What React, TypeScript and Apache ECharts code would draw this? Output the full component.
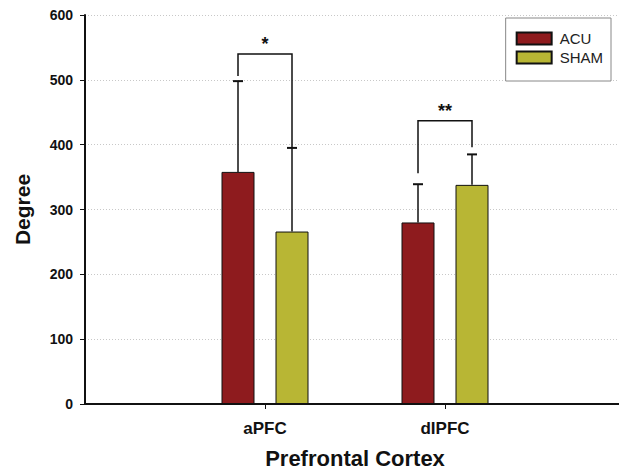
import React, { useEffect, useRef } from "react";
import * as echarts from "echarts";

const groups = ["aPFC", "dIPFC"];
const acuMean = [358, 280];
const acuSD = [140, 59];
const shamMean = [266, 338];
const shamSD = [129, 47];
const sigLevel = [540, 437];
const sigLeftEnd = [506, 356];
const sigRightEnd = [395, 396];
const sigLabel = ["*", "**"];
const yTicks = { min: 0, max: 600, interval: 100 };

const FONT = "'Liberation Sans', Arial, Helvetica, sans-serif";
const BAR_W = 33;
const BAR_GAP = 21;
const OFFSET = (BAR_W + BAR_GAP) / 2;

export default function App() {
  const ref = useRef<HTMLDivElement>(null);
  useEffect(() => {
    if (!ref.current) return;
    const chart = echarts.init(ref.current, undefined, { renderer: "svg" });
    const cats = ["", ...groups, ""];
    const pad = (a: number[]) => ["-", ...a, "-"];

    const errData: any[] = [];
    groups.forEach((_, i) => {
      errData.push([i + 1, acuMean[i], acuSD[i], -1]);
      errData.push([i + 1, shamMean[i], shamSD[i], 1]);
    });
    const sigData = groups.map((_, i) => [i + 1, sigLevel[i], sigLeftEnd[i], sigRightEnd[i], i]);

    chart.setOption({
      animation: false,
      backgroundColor: "#ffffff",
      grid: { left: 85, right: -6, top: 15, bottom: 70, outerBoundsMode: "none", containLabel: false },
      legend: {
        orient: "vertical",
        right: 8,
        top: 18,
        itemWidth: 35,
        itemHeight: 12,
        itemGap: 2,
        padding: [12, 8, 15, 10],
        borderColor: "#888",
        borderWidth: 1,
        borderRadius: 0,
        backgroundColor: "#ffffff",
        icon: "rect",
        data: ["ACU", "SHAM"],
        textStyle: { fontFamily: FONT, fontSize: 15, lineHeight: 17, color: "#222", padding: [0, 0, 0, 3] },
      },
      xAxis: {
        type: "category",
        data: cats,
        boundaryGap: false,
        name: "Prefrontal Cortex",
        nameLocation: "middle",
        nameGap: 43,
        nameTextStyle: { fontFamily: FONT, fontSize: 22, fontWeight: "bold", color: "#111" },
        axisLine: { lineStyle: { color: "#111", width: 2 } },
        axisTick: {
          length: 5,
          interval: (i: number) => i === 1 || i === 2,
          lineStyle: { color: "#111", width: 1 },
        },
        axisLabel: {
          interval: 0,
          margin: 16,
          fontFamily: FONT,
          fontSize: 17,
          fontWeight: "bold",
          color: "#111",
        },
        splitLine: { show: false },
      },
      yAxis: {
        type: "value",
        min: yTicks.min,
        max: yTicks.max,
        interval: yTicks.interval,
        name: "Degree",
        nameLocation: "middle",
        nameGap: 52,
        nameTextStyle: { fontFamily: FONT, fontSize: 21, fontWeight: "bold", color: "#111" },
        axisLine: { show: true, lineStyle: { color: "#111", width: 2 } },
        axisTick: { show: true, length: 5, lineStyle: { color: "#111", width: 1 } },
        axisLabel: { margin: 12, fontFamily: FONT, fontSize: 14, fontWeight: "bold", color: "#111" },
        splitLine: { show: true, lineStyle: { color: "#c8c8c8", type: [1, 2], width: 1 } },
      },
      series: [
        {
          name: "ACU",
          type: "bar",
          data: pad(acuMean),
          barWidth: BAR_W,
          barGap: (BAR_GAP / BAR_W) * 100 + "%",
          itemStyle: { color: "#8e1b1e", borderColor: "#111", borderWidth: 1 },
        },
        {
          name: "SHAM",
          type: "bar",
          data: pad(shamMean),
          barWidth: BAR_W,
          itemStyle: { color: "#b8b634", borderColor: "#111", borderWidth: 1 },
        },
        {
          type: "custom",
          name: "err",
          z: 5,
          data: errData,
          silent: true,
          renderItem: (params: any, api: any) => {
            const c = api.value(0);
            const m = api.value(1);
            const sd = api.value(2);
            const s = api.value(3);
            const base = api.coord([c, m]);
            const top = api.coord([c, m + sd]);
            const x = base[0] + s * OFFSET;
            return {
              type: "group",
              children: [
                { type: "line", shape: { x1: x, y1: base[1], x2: x, y2: top[1] }, style: { stroke: "#111", lineWidth: 1.5 } },
                { type: "line", shape: { x1: x - 5, y1: top[1], x2: x + 5, y2: top[1] }, style: { stroke: "#111", lineWidth: 2 } },
              ],
            };
          },
        },
        {
          type: "custom",
          name: "sig",
          z: 5,
          data: sigData,
          silent: true,
          renderItem: (params: any, api: any) => {
            const c = api.value(0);
            const lvl = api.coord([c, api.value(1)]);
            const le = api.coord([c, api.value(2)]);
            const re = api.coord([c, api.value(3)]);
            const idx = api.value(4);
            const xl = lvl[0] - OFFSET;
            const xr = lvl[0] + OFFSET;
            return {
              type: "group",
              children: [
                {
                  type: "polyline",
                  shape: { points: [[xl, le[1]], [xl, lvl[1]], [xr, lvl[1]], [xr, re[1]]] },
                  style: { stroke: "#111", lineWidth: 1.5, fill: "none" },
                },
                {
                  type: "text",
                  x: lvl[0],
                  y: lvl[1] - 1,
                  style: {
                    text: sigLabel[idx],
                    fontFamily: FONT,
                    fontSize: 18,
                    fontWeight: "bold",
                    fill: "#111",
                    align: "center",
                    verticalAlign: "bottom",
                  },
                },
              ],
            };
          },
        },
      ],
    });
    return () => chart.dispose();
  }, []);
  return (
    <div
      ref={ref}
      style={{ position: "fixed", left: 0, top: 0, width: 619, height: 474 }}
    />
  );
}
